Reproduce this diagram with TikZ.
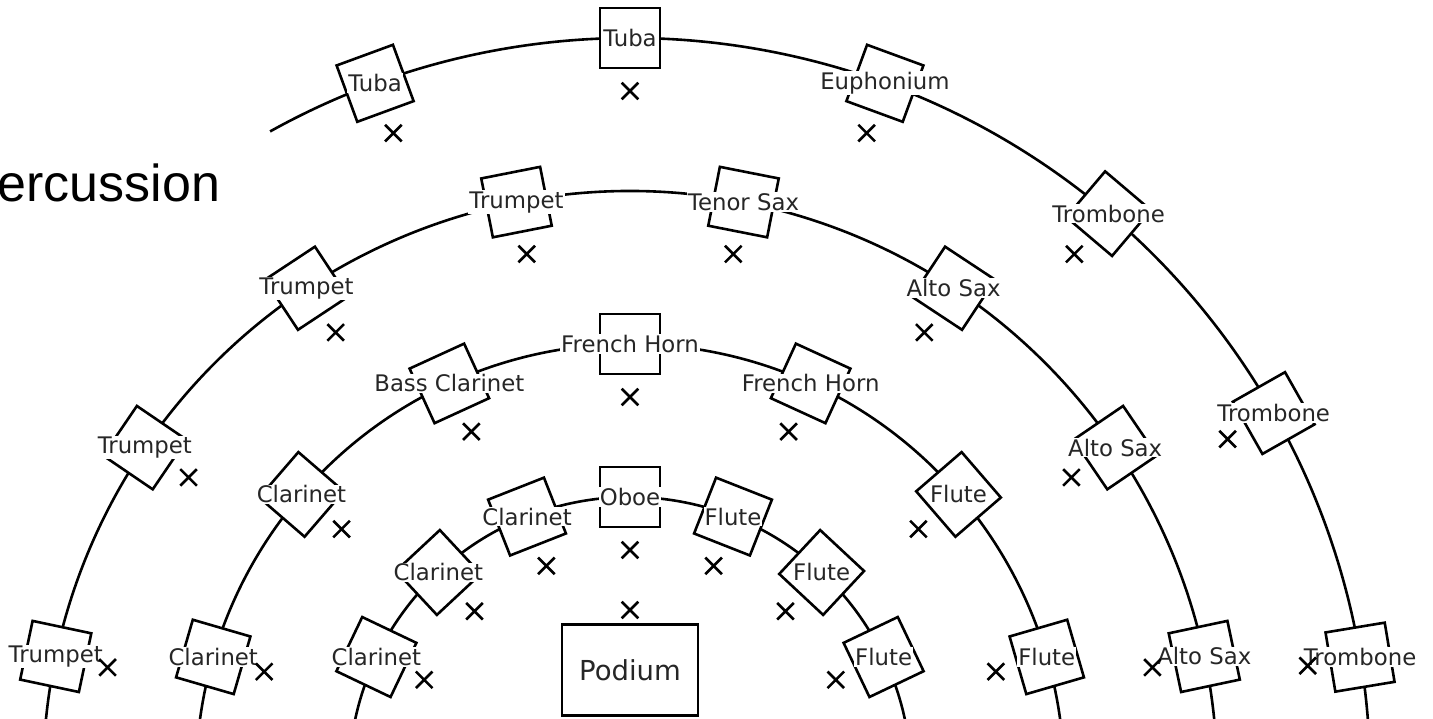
\documentclass[tikz,border=0pt]{standalone}
\usepackage{fontspec}
\setmainfont{DejaVu Sans}
\newfontfamily\percfont{Liberation Sans}
\usetikzlibrary{shapes.misc}
\definecolor{txt}{gray}{0.15}
\begin{document}
\begin{tikzpicture}[x=1pt,y=1pt,
  seat/.style={draw=black, line width=2.6pt, fill=white, rectangle, minimum size=60pt, inner sep=0pt},
  lbl/.style={fill=white, text=txt, inner sep=1pt, font=\fontsize{22.8}{27}\selectfont},
  xmk/.style={draw=black, cross out, line width=2.6pt, minimum size=14pt, inner sep=0pt},
  ring/.style={draw=black, line width=2.6pt},
  podiumbox/.style={draw=black, line width=2.6pt, fill=white, minimum width=136pt, minimum height=91pt, text=txt, font=\fontsize{27.5}{32}\selectfont}
]
\useasboundingbox (0,0) rectangle (1433,719);
\clip (0,0) rectangle (1433,719);
\coordinate (C) at (630,-59);
% rings
\draw[ring] ([shift={(-10:281)}]C) arc[start angle=-10, end angle=190, radius=281];
\draw[ring] ([shift={(-10:434)}]C) arc[start angle=-10, end angle=190, radius=434];
\draw[ring] ([shift={(-10:587)}]C) arc[start angle=-10, end angle=190, radius=587];
\draw[ring] ([shift={(-10:740)}]C) arc[start angle=-10, end angle=119.1, radius=740];
\def\seats{281/25.5/Flute, 281/47/Flute, 281/68.5/Flute, 281/90/Oboe, 281/111.5/Clarinet, 281/133/Clarinet, 281/154.5/Clarinet,
  434/16.2/Flute, 434/40.8/Flute, 434/65.4/French Horn, 434/90/French Horn, 434/114.6/Bass Clarinet, 434/139.2/Clarinet, 434/163.8/Clarinet,
  587/11.95/Alto Sax, 587/34.25/Alto Sax, 587/56.55/Alto Sax, 587/78.85/Tenor Sax, 587/101.15/Trumpet, 587/123.45/Trumpet, 587/145.75/Trumpet, 587/168.05/Trumpet,
  740/9.4/Trombone, 740/29.55/Trombone, 740/49.7/Trombone, 740/69.85/Euphonium, 740/90/Tuba, 740/110.15/Tuba}
\foreach \r/\a/\t [count=\i] in \seats {
  \node[seat, rotate=\a-90] (s\i) at ([shift={({\a}:{\r})}]C) {};
}
\foreach \r/\a/\t [count=\i] in \seats {
  \node[lbl] (t\i) at (s\i) {\t};
}
\foreach \r/\a/\t [count=\i] in \seats {
  \node[xmk] (x\i) at ([shift={({\a}:{\r-53})}]C) {};
}
\node[podiumbox] (podium) at (630,49) {Podium};
\node[xmk] (xp) at (630,109) {};
\node[anchor=base east, inner sep=0pt, font=\percfont\fontsize{52}{60}\selectfont] (perc) at (220.5,517) {Percussion};
\end{tikzpicture}
\end{document}
